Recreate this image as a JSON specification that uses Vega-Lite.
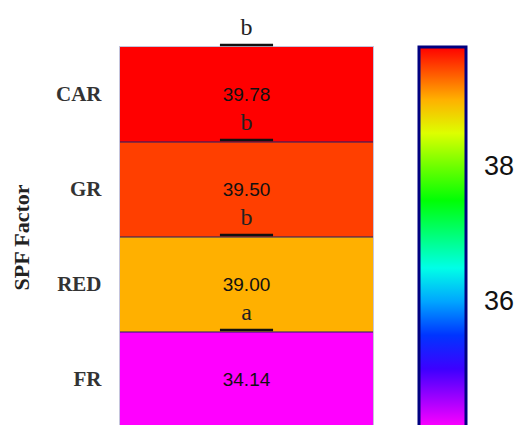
{
  "$schema": "https://vega.github.io/schema/vega-lite/v6.json",
  "autosize": "none",
  "width": 253,
  "height": 380,
  "padding": {"left": 120, "top": 47, "right": 148, "bottom": 0},
  "background": "white",
  "view": {"stroke": "#c4c4dc", "strokeWidth": 2},
  "data": {
    "values": [
      {"factor": "CAR", "spf": 39.78, "letter": "b"},
      {"factor": "GR", "spf": 39.50, "letter": "b"},
      {"factor": "RED", "spf": 39.00, "letter": "b"},
      {"factor": "FR", "spf": 34.14, "letter": "a"}
    ]
  },
  "encoding": {
    "y": {
      "field": "factor",
      "type": "nominal",
      "sort": ["CAR", "GR", "RED", "FR"],
      "scale": {"paddingInner": 0, "paddingOuter": 0},
      "axis": {
        "title": "SPF Factor",
        "titleFont": "Liberation Serif",
        "titleFontSize": 22,
        "titleFontWeight": "bold",
        "titleColor": "#222",
        "titlePadding": 22,
        "labelFont": "Liberation Serif",
        "labelFontSize": 21,
        "labelFontWeight": "bold",
        "labelColor": "#333",
        "labelPadding": 19,
        "ticks": false,
        "domain": false
      }
    }
  },
  "layer": [
    {
      "mark": {"type": "rect"},
      "encoding": {
        "x": {"datum": 0, "type": "quantitative", "scale": {"domain": [0, 1], "nice": false, "zero": false}, "axis": null},
        "x2": {"datum": 1},
        "color": {
          "field": "spf",
          "type": "quantitative",
          "scale": {
            "domain": [34.14, 39.78],
            "range": ["#ff00ff", "#0000ff", "#00ffff", "#00ff00", "#ffff00", "#ff0000"],
            "interpolate": "rgb"
          },
          "legend": {
            "title": null,
            "orient": "right",
            "offset": 46,
            "padding": 0,
            "direction": "vertical",
            "gradientLength": 380,
            "gradientThickness": 47,
            "gradientStrokeColor": "#000080",
            "gradientStrokeWidth": 3,
            "values": [36, 38],
            "labelFont": "Liberation Sans",
            "labelFontSize": 27,
            "labelColor": "#111",
            "labelOffset": 18,
            "labelBaseline": "middle"
          }
        }
      }
    },
    {
      "transform": [{"filter": "datum.factor !== 'CAR'"}],
      "mark": {"type": "rule", "color": "#1c1c6c", "strokeWidth": 1.2},
      "encoding": {
        "x": {"datum": 0, "type": "quantitative"},
        "x2": {"datum": 1},
        "y": {"field": "factor", "type": "nominal", "sort": ["CAR", "GR", "RED", "FR"], "bandPosition": 0}
      }
    },
    {
      "mark": {"type": "text", "font": "Liberation Sans", "fontSize": 19, "color": "#111", "baseline": "middle"},
      "encoding": {
        "x": {"datum": 0.5, "type": "quantitative"},
        "text": {"field": "spf", "type": "quantitative", "format": ".2f"}
      }
    },
    {
      "mark": {"type": "rule", "color": "#111", "strokeWidth": 2.5, "yOffset": -2},
      "encoding": {
        "x": {"datum": 0.395, "type": "quantitative"},
        "x2": {"datum": 0.605},
        "y": {"field": "factor", "type": "nominal", "sort": ["CAR", "GR", "RED", "FR"], "bandPosition": 0}
      }
    },
    {
      "mark": {"type": "text", "font": "Liberation Serif", "fontSize": 24, "color": "#222", "baseline": "alphabetic", "yOffset": -12},
      "encoding": {
        "x": {"datum": 0.5, "type": "quantitative"},
        "y": {"field": "factor", "type": "nominal", "sort": ["CAR", "GR", "RED", "FR"], "bandPosition": 0},
        "text": {"field": "letter"}
      }
    }
  ]
}
